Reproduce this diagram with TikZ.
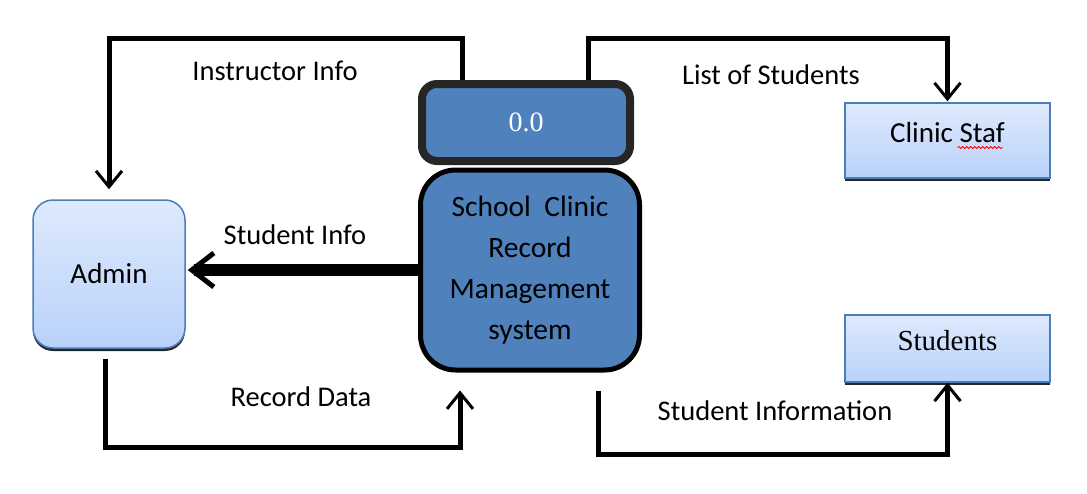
\documentclass[tikz,border=0pt]{standalone}
\usepackage{fontspec}
\setmainfont{Carlito}
\newfontfamily\tnr{Liberation Serif}
\usetikzlibrary{positioning, arrows.meta}
\usetikzlibrary{shapes, shadows, decorations.pathmorphing}

\definecolor{procblue}{HTML}{4F81BD}
\definecolor{procedge}{HTML}{262626}
\definecolor{enttop}{HTML}{DEEAFD}
\definecolor{entbot}{HTML}{B9D1FA}
\definecolor{entedge}{HTML}{4A7EBB}

\tikzset{
	entity/.style={draw=entedge, line width=1.5pt, top color=enttop, bottom color=entbot,
		drop shadow={shadow xshift=0pt, shadow yshift=-3pt, fill=black, opacity=.85},
		font=\fontsize{29}{34}\selectfont},
	flow/.style={line width=5pt, -{Straight Barb[length=16pt, width=26pt, line width=3pt]}},
	lbl/.style={font=\fontsize{28.5}{34}\selectfont}
}

\begin{document}
\begin{tikzpicture}[x=1pt, y=-1pt]
		\useasboundingbox (0,0) rectangle (1087,493);

		% process
		\node[draw=procedge, line width=8pt, fill=procblue, rounded corners=15pt,
			minimum width=208pt, minimum height=77pt, text=white,
			font=\tnr\fontsize{28}{32}\selectfont] (P0) at (526,122.5) {0.0};
		\node[draw=black, line width=5pt, fill=procblue, rounded corners=35pt,
			minimum width=219pt, minimum height=200pt, align=center,
			font=\fontsize{29.5}{41}\selectfont] (P) at (530,270) {School~~Clinic\\Record\\Management\\system};

		% entities
		\node[entity, rounded corners=20pt, minimum width=152pt, minimum height=148pt] (Adm) at (109,274) {Admin};
		\node[entity, minimum width=205pt, minimum height=75pt, text depth=16pt] (Staf) at (947.5,140.5) {Clinic Staf};
		\node[entity, minimum width=205pt, minimum height=67pt, text depth=16pt,
			font=\tnr\fontsize{29}{32}\selectfont] (Stud) at (947.5,348.5) {Students};
		\draw[red, line width=.8pt, decorate, decoration={snake, amplitude=1pt, segment length=4pt}]
			([xshift=10pt, yshift=-7pt]Staf.center) -- ([xshift=55pt, yshift=-7pt]Staf.center);

		% flows
		\draw[flow, shorten >=10pt] ([xshift=-64pt]P0.north) -- ++(0,-42) -| (Adm.north);
		\draw[flow, shorten >=1pt] ([xshift=62pt]P0.north) -- ++(0,-42) -| (Staf.north);
		\draw[line width=12pt, -{Straight Barb[length=22pt, width=34pt, line width=5pt]}, shorten >=2pt]
			(P.west) -- (P.west -| Adm.east);
		\draw[flow, shorten <=10pt, shorten >=18pt] ([xshift=-4pt]Adm.south) -- ++(0,99) -| ([xshift=-70pt]P.south);
		\draw[flow, shorten <=18pt] ([xshift=68pt]P.south) -- ++(0,82) -| (Stud.south);

		% labels
		\node[lbl] (L1) at (275,71) {Instructor Info};
		\node[lbl] (L2) at (771,75) {List of Students};
		\node[lbl] (L3) at (295,235) {Student Info};
		\node[lbl] (L4) at (301,397) {Record Data};
		\node[lbl] (L5) at (775,411) {Student Information};
	\end{tikzpicture}
\end{document}
